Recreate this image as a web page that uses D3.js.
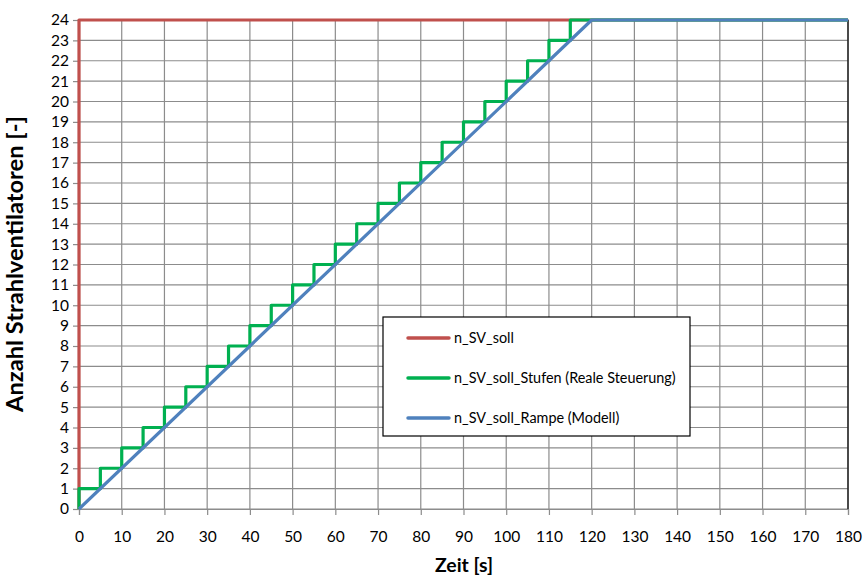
<!DOCTYPE html>
<html>
<head>
<meta charset="utf-8">
<style>
  body { margin: 0; background: #fff; }
  text { font-family: Lato, "Open Sans", sans-serif; fill: #000; }
</style>
</head>
<body>
<svg width="866" height="579"></svg>
<script src="https://d3js.org/d3.v7.min.js"></script>
<script>
// data
var xTicks = [0, 10, 20, 30, 40, 50, 60, 70, 80, 90, 100, 110, 120, 130, 140, 150, 160, 170, 180];
var yTicks = [0, 1, 2, 3, 4, 5, 6, 7, 8, 9, 10, 11, 12, 13, 14, 15, 16, 17, 18, 19, 20, 21, 22, 23, 24];

var sollTime = [0, 0, 180];
var sollValue = [0, 24, 24];

var stufenTime = [0, 0, 5, 10, 15, 20, 25, 30, 35, 40, 45, 50, 55, 60, 65, 70, 75, 80, 85, 90, 95, 100, 105, 110, 115, 180];
var stufenValue = [0, 1, 2, 3, 4, 5, 6, 7, 8, 9, 10, 11, 12, 13, 14, 15, 16, 17, 18, 19, 20, 21, 22, 23, 24, 24];

var rampeTime = [0, 120, 180];
var rampeValue = [0, 24, 24];

var seriesNames = ["n_SV_soll", "n_SV_soll_Stufen (Reale Steuerung)", "n_SV_soll_Rampe (Modell)"];
var seriesColors = ["#C0504D", "#00B050", "#4F81BD"];

var svg = d3.select("svg");
var margin = { left: 79, right: 18, top: 20, bottom: 70 };
var W = 866, H = 579;

var x = d3.scaleLinear().domain([0, 180]).range([margin.left, W - margin.right]);
var y = d3.scaleLinear().domain([0, 24]).range([H - margin.bottom, margin.top]);

// font size that makes a string about `target` px wide
function fitSize(str, target, weight) {
  var t = svg.append("text").style("font-size", "20px").style("font-weight", weight || "normal").text(str);
  var w = t.node().getComputedTextLength();
  t.remove();
  return 20 * target / w;
}
var tickSize = fitSize("100", 27);
var legendSize = fitSize(seriesNames[1], 222);

// grid
var grid = svg.append("g");
grid.selectAll(".gx").data(xTicks).enter().append("line")
    .attr("x1", function(d) { return x(d); }).attr("x2", function(d) { return x(d); })
    .attr("y1", y(0)).attr("y2", y(24))
    .attr("stroke", "#8c8c8c").attr("stroke-width", 1.2);
grid.selectAll(".gy").data(yTicks).enter().append("line")
    .attr("x1", x(0)).attr("x2", x(180))
    .attr("y1", function(d) { return y(d); }).attr("y2", function(d) { return y(d); })
    .attr("stroke", "#8c8c8c").attr("stroke-width", 1.2);

// right/top border
svg.append("path")
    .attr("d", "M" + x(0) + "," + y(24) + "H" + x(180) + "V" + y(0))
    .attr("fill", "none").attr("stroke", "#000").attr("stroke-width", 1.2);

// axes
var xAxis = svg.append("g")
    .attr("transform", "translate(0," + y(0) + ")")
    .call(d3.axisBottom(x).tickValues(xTicks).tickSize(6).tickPadding(16));
var yAxis = svg.append("g")
    .attr("transform", "translate(" + x(0) + ",0)")
    .call(d3.axisLeft(y).tickValues(yTicks).tickSize(6).tickPadding(4));
[xAxis, yAxis].forEach(function(a) {
  a.select(".domain").attr("stroke", "#8c8c8c").attr("stroke-width", 1.2);
  a.selectAll(".tick line").attr("stroke", "#8c8c8c").attr("stroke-width", 1.2);
  a.selectAll("text").style("font-size", tickSize + "px").attr("fill", "#000");
});

// series
var line = d3.line()
    .x(function(d) { return x(d[0]); })
    .y(function(d) { return y(d[1]); });
var stepLine = d3.line()
    .x(function(d) { return x(d[0]); })
    .y(function(d) { return y(d[1]); })
    .curve(d3.curveStepAfter);

var series = [
  { t: sollTime, v: sollValue, gen: line },
  { t: stufenTime, v: stufenValue, gen: stepLine },
  { t: rampeTime, v: rampeValue, gen: line }
];
series.forEach(function(s, i) {
  var pts = s.t.map(function(t, j) { return [t, s.v[j]]; });
  svg.append("path")
      .attr("d", s.gen(pts))
      .attr("fill", "none")
      .attr("stroke", seriesColors[i])
      .attr("stroke-width", 3.2)
      .attr("stroke-linejoin", "round");
});

// axis titles
svg.append("text")
    .attr("x", 464).attr("y", 572)
    .attr("text-anchor", "middle")
    .style("font-size", fitSize("Zeit [s]", 58, "bold") + "px").style("font-weight", "bold")
    .text("Zeit [s]");
svg.append("text")
    .attr("transform", "translate(23,264) rotate(-90)")
    .attr("text-anchor", "middle")
    .style("font-size", fitSize("Anzahl Strahlventilatoren [-]", 296, "bold") + "px").style("font-weight", "bold")
    .text("Anzahl Strahlventilatoren [-]");

// legend
var lg = svg.append("g").attr("transform", "translate(383,317)");
lg.append("rect")
    .attr("width", 307).attr("height", 119)
    .attr("fill", "#fff").attr("stroke", "#000").attr("stroke-width", 1.2);
seriesNames.forEach(function(n, i) {
  var yy = 21 + i * 40;
  lg.append("line")
      .attr("x1", 25).attr("x2", 66).attr("y1", yy).attr("y2", yy)
      .attr("stroke", seriesColors[i]).attr("stroke-width", 3.5).attr("stroke-linecap", "round");
  lg.append("text")
      .attr("x", 71).attr("y", yy).attr("dy", "0.35em")
      .style("font-size", legendSize + "px")
      .text(n);
});
</script>
</body>
</html>
